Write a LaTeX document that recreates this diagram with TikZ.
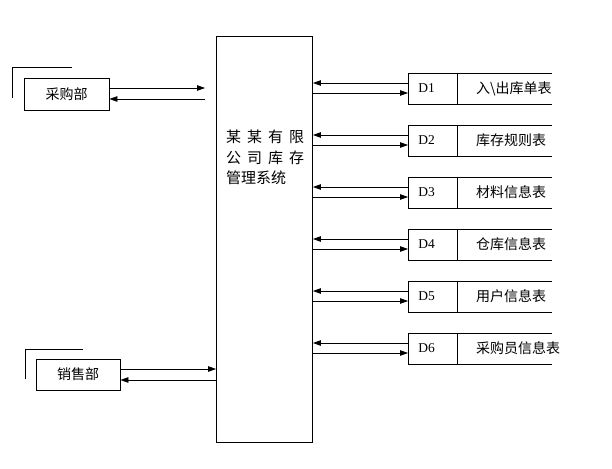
\documentclass[tikz,border=0pt]{standalone}
\usepackage{fontspec}
\setmainfont{Liberation Serif}
\newfontfamily\cjk{Noto Sans CJK SC}
\usetikzlibrary{arrows.meta}
\tikzset{
  box/.style={draw, line width=0.9pt, inner sep=0pt},
  ln/.style={line width=0.8pt},
  arr/.style={line width=0.8pt, -{Triangle[length=8pt,width=5.5pt]}},
  lbl/.style={font=\cjk\fontsize{14}{16}\selectfont, inner sep=0pt},
  dlbl/.style={font=\fontsize{13.5}{15}\selectfont, inner sep=0pt},
  dcell/.style={draw, line width=0.8pt, minimum width=49pt, minimum height=31pt, inner sep=0pt, outer sep=0pt},
  ctext/.style={font=\cjk\fontsize{15}{17}\selectfont, inner sep=0pt, anchor=west}
}
\begin{document}
\begin{tikzpicture}[x=1pt,y=-1pt]
\useasboundingbox (0,0) rectangle (612,468);
% central system box
\node[box, minimum width=96pt, minimum height=406pt] (sys) at (264.5,239) {};
\node[ctext] (t1) at (226,137) {某\hspace{6pt}某\hspace{6pt}有\hspace{6pt}限};
\node[ctext] (t2) at (226,158) {公\hspace{6pt}司\hspace{6pt}库\hspace{6pt}存};
\node[ctext] (t3) at (226,178) {管理系统};

% purchasing dept
\node[box, line width=0.8pt, minimum width=85pt, minimum height=32pt, lbl] (cg) at (66.5,94) {采购部};
\coordinate (cgend1) at (205,88);
\coordinate (cgend2) at (205,99);
\draw[ln] (12,98) -- (12,67) -- (72,67);
\draw[arr] (cg.east |- cgend1) -- (cgend1);
\draw[arr] (cgend2) -- (cg.east |- cgend2);

% sales dept
\node[box, line width=0.8pt, minimum width=84pt, minimum height=31pt, lbl] (xs) at (78,374.5) {销售部};
\draw[ln] (25,379) -- (25,349) -- (83,349);
\draw[arr] ([yshift=5.5pt]xs.east) -- ([yshift=5.5pt]xs.east -| sys.west);
\draw[arr] ([yshift=-5.5pt]xs.east -| sys.west) -- ([yshift=-5.5pt]xs.east);

% data stores
\foreach \i/\name/\txt in {1/d1/入\textbackslash 出库单表, 2/d2/库存规则表, 3/d3/材料信息表, 4/d4/仓库信息表, 5/d5/用户信息表, 6/d6/采购员信息表}{
  \pgfmathsetmacro{\yc}{88.5+52*(\i-1)}
  \node[dcell] (\name) at (432.5,\yc) {};
  \node[dlbl] (\name l) at ([xshift=-6pt]\name.center) {D\i};
  \draw[ln] (\name.north east) -- ++(95,0);
  \draw[ln] (\name.south east) -- ++(95,0);
  \node[lbl, anchor=west] (\name t) at ([xshift=19pt]\name.east) {\txt};
  \draw[arr] ([yshift=5.5pt]\name.west) -- ([yshift=5.5pt]\name.west -| sys.east);
  \draw[arr] ([yshift=-4.5pt]\name.west -| sys.east) -- ([yshift=-4.5pt]\name.west);
}
\end{tikzpicture}
\end{document}
